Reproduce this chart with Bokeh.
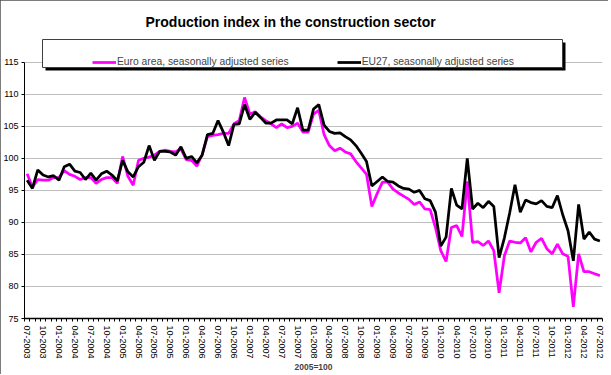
from bokeh.plotting import figure
from bokeh.models import FixedTicker, Legend, LegendItem, BoxAnnotation
from bokeh.embed import file_html
from bokeh.resources import INLINE

# ---- data (monthly, 07-2003 .. 07-2012, 2005=100) ----
tick_labels = ["07-2003", "10-2003", "01-2004", "04-2004", "07-2004", "10-2004",
               "01-2005", "04-2005", "07-2005", "10-2005", "01-2006", "04-2006",
               "07-2006", "10-2006", "01-2007", "04-2007", "07-2007", "10-2007",
               "01-2008", "04-2008", "07-2008", "10-2008", "01-2009", "04-2009",
               "07-2009", "10-2009", "01-2010", "04-2010", "07-2010", "10-2010",
               "01-2011", "04-2011", "07-2011", "10-2011", "01-2012", "04-2012",
               "07-2012"]

euro_area = [97.6, 95.5, 96.7, 96.6, 96.6, 97.0, 97.0, 98.1, 97.5, 97.2,
             96.7, 97.0, 97.0, 96.1, 96.7, 97.0, 97.0, 96.1, 100.3, 97.2,
             95.8, 99.7, 100.0, 100.2, 100.5, 101.1, 101.3, 101.1, 101.0, 101.5,
             99.8, 99.7, 98.8, 100.6, 103.4, 103.6, 103.7, 103.9, 103.9, 105.4,
             105.9, 109.5, 106.9, 107.3, 106.5, 105.9, 105.4, 104.8, 105.4, 104.8,
             105.0, 105.5, 104.1, 104.1, 106.9, 107.5, 103.7, 102.0, 101.2, 101.6,
             101.0, 100.7, 99.5, 98.5, 97.5, 92.5, 94.5, 96.3, 96.3, 95.2,
             94.6, 94.1, 93.6, 92.8, 93.2, 92.1, 92.0, 89.2, 85.6, 83.9,
             89.2, 89.5, 87.8, 96.4, 86.9, 87.0, 86.4, 87.1, 85.6, 79.0,
             84.8, 87.1, 86.9, 86.8, 87.6, 85.4, 86.9, 87.5, 85.9, 85.1,
             86.6, 85.1, 84.7, 76.8, 85.1, 82.3, 82.3, 82.0, 81.7]

eu27 = [96.6, 95.3, 98.2, 97.4, 97.1, 97.3, 96.6, 98.7, 99.1, 98.0,
        97.8, 96.7, 97.7, 96.6, 97.6, 98.0, 97.4, 96.5, 99.7, 97.9,
        97.1, 98.7, 99.4, 102.0, 99.7, 101.1, 101.1, 101.0, 100.5, 101.8,
        100.0, 100.3, 99.3, 100.5, 103.7, 103.9, 105.9, 104.1, 102.0, 105.3,
        105.4, 108.4, 106.1, 107.2, 106.4, 105.5, 105.5, 106.0, 106.0, 106.0,
        105.4, 107.9, 104.4, 104.4, 107.7, 108.4, 105.2, 104.2, 103.9, 104.0,
        103.4, 102.9, 102.0, 100.8, 99.5, 95.7, 96.4, 97.1, 96.4, 96.3,
        95.7, 95.3, 95.2, 94.7, 95.0, 93.7, 93.4, 91.6, 86.3, 87.7,
        95.3, 92.7, 92.1, 100.0, 92.1, 93.0, 92.3, 93.3, 92.5, 84.5,
        87.6, 91.5, 95.9, 91.6, 93.5, 93.1, 92.9, 93.4, 92.5, 92.3,
        94.2, 91.2, 88.7, 84.0, 92.8, 87.4, 88.5, 87.4, 87.1]

y_ticks = [75, 80, 85, 90, 95, 100, 105, 110, 115]

# ---- figure ----
n = len(eu27)
x = list(range(n))
FONT = "Liberation Sans"

# frame spans 36..320 px vertically; 75..115 occupies 62..320 px (6.45 px per unit)
y_top = 115 + (62 - 36) / 6.45

p = figure(width=608, height=374, x_range=(-0.5, n - 0.5), y_range=(75, y_top),
           output_backend="svg", toolbar_location=None,
           min_border_left=23, min_border_right=6, min_border_top=36,
           min_border_bottom=54)
p.outline_line_color = None
p.background_fill_color = "white"
p.border_fill_color = "white"
p.styles = {"outline": "1px solid #505050", "outline-offset": "-1px"}

p.title.text = "Production index in the construction sector"
p.title.text_font = FONT
p.title.text_font_size = "14px"
p.title.text_font_style = "bold"
p.title.text_color = "black"
p.title.align = "left"
p.title.offset = 121
p.title.standoff = 13

# x axis
tick_pos = list(range(0, n, 3))
p.xaxis.ticker = FixedTicker(ticks=tick_pos, minor_ticks=[i - 0.5 for i in range(n + 1)])
p.xaxis.major_label_overrides = {t: lab for t, lab in zip(tick_pos, tick_labels)}
p.xaxis.major_label_orientation = "vertical"
p.xaxis.major_label_text_font = FONT
p.xaxis.major_label_text_font_size = "9px"
p.xaxis.major_label_text_color = "black"
p.xaxis.major_label_standoff = 4
p.xaxis.major_tick_out = 0
p.xaxis.major_tick_in = 0
p.xaxis.minor_tick_out = 3
p.xaxis.minor_tick_in = 0
p.xaxis.minor_tick_line_color = "black"
p.xaxis.axis_line_color = "black"
p.xaxis.axis_line_width = 1.5
p.xaxis.axis_label = "2005=100"
p.xaxis.axis_label_text_font = FONT
p.xaxis.axis_label_text_font_size = "8.5px"
p.xaxis.axis_label_text_font_style = "bold"
p.xaxis.axis_label_standoff = 0
p.xgrid.visible = False

# y axis
p.yaxis.ticker = FixedTicker(ticks=y_ticks)
p.yaxis.bounds = (75, 115)
p.yaxis.major_label_text_font = FONT
p.yaxis.major_label_text_font_size = "9px"
p.yaxis.major_label_text_color = "black"
p.yaxis.major_label_standoff = 3
p.yaxis.major_tick_out = 3
p.yaxis.major_tick_in = 0
p.yaxis.minor_tick_out = 0
p.yaxis.minor_tick_in = 0
p.yaxis.axis_line_color = "black"
p.yaxis.axis_line_width = 1
p.ygrid.grid_line_color = "#bfbfbf"
p.ygrid.grid_line_width = 1

# series
r_euro = p.line(x, euro_area, line_color="#FF00FF", line_width=2.75)
r_eu27 = p.line(x, eu27, line_color="black", line_width=2.75)

# legend frame with shadow
shadow = BoxAnnotation(left=45, right=565, top=42, bottom=70,
                       left_units="canvas", right_units="canvas",
                       top_units="canvas", bottom_units="canvas",
                       fill_color="black", fill_alpha=1, line_color=None)
box = BoxAnnotation(left=42, right=562, top=39, bottom=67,
                    left_units="canvas", right_units="canvas",
                    top_units="canvas", bottom_units="canvas",
                    fill_color="white", fill_alpha=1, line_color="#404040",
                    line_width=1, line_alpha=1)
p.add_layout(shadow)
p.add_layout(box)

legend = Legend(items=[LegendItem(label="Euro area, seasonally adjusted series", renderers=[r_euro]),
                       LegendItem(label="EU27, seasonally adjusted series", renderers=[r_eu27])],
                orientation="horizontal", location=(68, 251),
                border_line_color=None, background_fill_alpha=0,
                padding=5, spacing=48, glyph_width=24, glyph_height=10,
                label_standoff=1, label_height=10, margin=0,
                label_text_font=FONT, label_text_font_size="10.3px")
p.add_layout(legend, "center")

open("out.html", "w").write(file_html(p, INLINE))
